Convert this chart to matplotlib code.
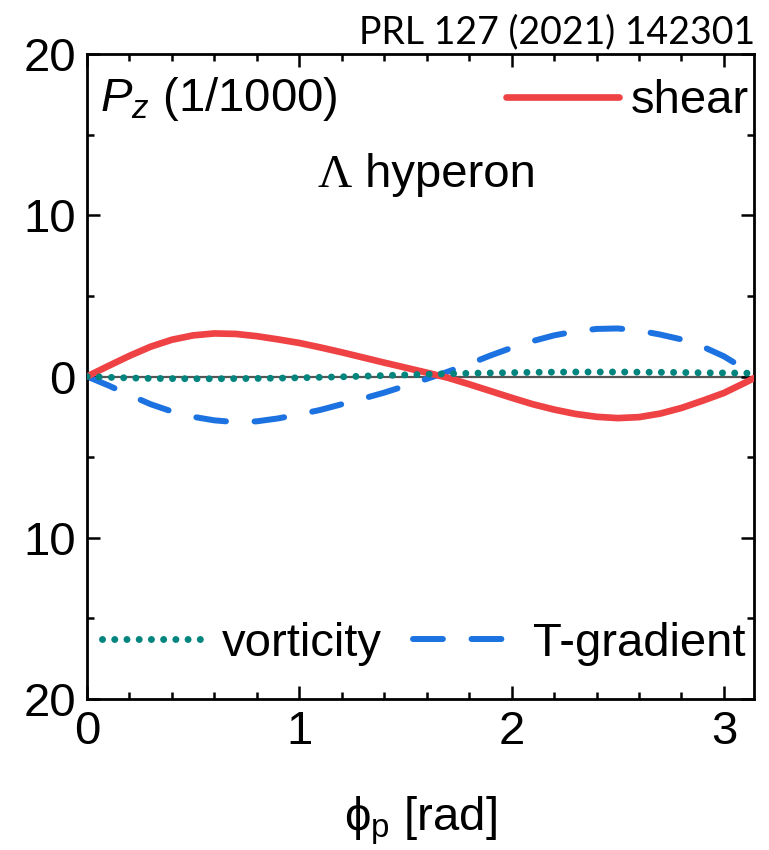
import numpy as np
import matplotlib
matplotlib.use("Agg")
import matplotlib.pyplot as plt
from matplotlib.ticker import MultipleLocator, FixedLocator, FixedFormatter

plt.rcParams['font.family'] = ['Liberation Sans', 'DejaVu Sans']
plt.rcParams['mathtext.fontset'] = 'custom'
plt.rcParams['mathtext.rm'] = 'Liberation Sans'
plt.rcParams['mathtext.it'] = 'Liberation Sans:italic'
plt.rcParams['mathtext.bf'] = 'Liberation Sans:bold'

# ---- data ----
phi = [0.0, 0.1, 0.2, 0.3, 0.4, 0.5, 0.6, 0.7, 0.8, 0.9, 1.0, 1.1, 1.2, 1.3, 1.4, 1.5,
       1.6, 1.7, 1.8, 1.9, 2.0, 2.1, 2.2, 2.3, 2.4, 2.5, 2.6, 2.7, 2.8, 2.9, 3.0, 3.1, 3.1416]
shear = [0.0, 0.65, 1.28, 1.85, 2.28, 2.55, 2.67, 2.64, 2.50, 2.30, 2.08, 1.80, 1.50, 1.18,
         0.86, 0.55, 0.24, -0.08, -0.48, -0.90, -1.32, -1.72, -2.05, -2.32, -2.50, -2.58,
         -2.52, -2.30, -1.95, -1.50, -1.02, -0.38, -0.10]
t_gradient = [0.0, -0.55, -1.15, -1.72, -2.17, -2.50, -2.72, -2.83, -2.78, -2.60, -2.35,
              -2.07, -1.72, -1.37, -1.00, -0.58, -0.15, 0.30, 0.78, 1.30, 1.78, 2.20, 2.55,
              2.80, 2.95, 2.98, 2.85, 2.60, 2.30, 1.85, 1.25, 0.45, 0.10]
vorticity = [0.0, -0.05, -0.09, -0.12, -0.13, -0.14, -0.14, -0.13, -0.12, -0.10, -0.08,
             -0.05, -0.02, 0.02, 0.06, 0.10, 0.14, 0.17, 0.20, 0.22, 0.24, 0.26, 0.27,
             0.28, 0.28, 0.28, 0.27, 0.26, 0.25, 0.23, 0.22, 0.21, 0.20]

ytick_vals = [20, 10, 0, -10, -20]
ytick_labels = ['20', '10', '0', '10', '20']
xtick_vals = [0, 1, 2, 3]

RED = '#EF4245'
BLUE = '#1B72E0'
TEAL = '#00847E'

fig = plt.figure(figsize=(7.69, 8.5), dpi=100)
ax = fig.add_axes([87/769, 1-699/850, (754-87)/769, (699-54)/850])

ax.axhline(0, color='#555555', lw=1.6, zorder=1)
l_shear, = ax.plot(phi, shear, color=RED, lw=4.8, solid_capstyle='round', label='shear', zorder=3)
l_vort, = ax.plot(phi, vorticity, color=TEAL, lw=5.0, dashes=(0.01, 1.75),
                  dash_capstyle='round', label='vorticity', zorder=4)
l_tg, = ax.plot(phi, t_gradient, color=BLUE, lw=4.3, dashes=(5.0, 4.8),
                dash_capstyle='round', label='T-gradient', zorder=2)

ax.set_xlim(0, np.pi)
ax.set_ylim(-20, 20)
ax.xaxis.set_major_locator(FixedLocator(xtick_vals))
ax.xaxis.set_minor_locator(MultipleLocator(0.2))
ax.yaxis.set_major_locator(FixedLocator(ytick_vals))
ax.yaxis.set_major_formatter(FixedFormatter(ytick_labels))
ax.yaxis.set_minor_locator(MultipleLocator(5))
ax.tick_params(which='both', direction='in', top=True, right=True, width=1.8, labelsize=34)
ax.tick_params(which='major', length=9.5, pad=8)
ax.tick_params(which='minor', length=5)
for s in ax.spines.values():
    s.set_linewidth(2.0)

ax.set_xlabel(r'$\mathrm{\phi_p}$ [rad]', fontsize=34, labelpad=29)

ax.text(0.02, 0.93, r'$P_z$ (1/1000)', transform=ax.transAxes, fontsize=34,
        va='center', ha='left')

t1 = ax.text(0.346, 0.794, 'Λ', transform=ax.transAxes, fontsize=34,
             family='Liberation Serif', va='baseline', ha='left')
fig.canvas.draw()
bb = t1.get_window_extent()
xr = ax.transAxes.inverted().transform((bb.x1, bb.y0))[0]
ax.text(xr, 0.794, ' hyperon', transform=ax.transAxes, fontsize=34, va='baseline', ha='left')

leg1 = ax.legend(handles=[l_shear], loc='upper right', bbox_to_anchor=(1.035, 1.005),
                 frameon=False, fontsize=34, handlelength=2.4, handletextpad=0.25,
                 borderaxespad=0.2)
ax.add_artist(leg1)
ax.legend(handles=[l_vort, l_tg], loc='lower center', bbox_to_anchor=(0.505, 0.0),
          frameon=False, fontsize=34, ncol=2, handlelength=2.2, handletextpad=0.35,
          columnspacing=0.65, borderaxespad=0.3)

fig.text(0.982, 0.962, 'PRL 127 (2021) 142301', ha='right', va='center',
         fontsize=27, family=['Lato', 'DejaVu Sans'])

fig.savefig('out.png', dpi=100)
